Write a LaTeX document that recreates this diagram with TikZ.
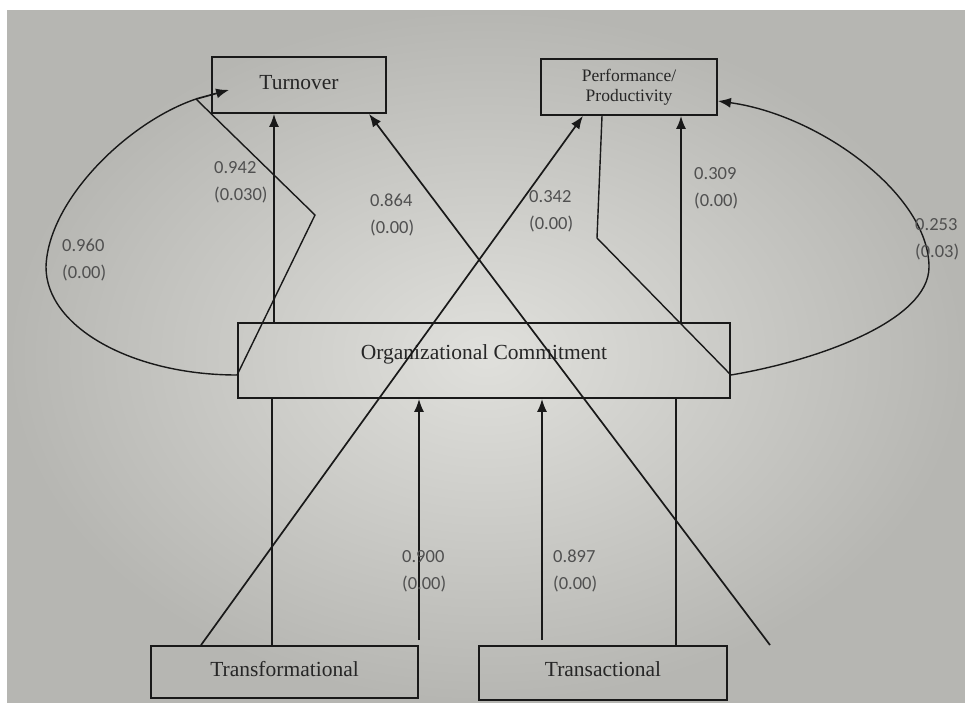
\documentclass[tikz,border=0pt]{standalone}
\usepackage{fontspec}
\setmainfont{Liberation Serif}
\newfontfamily\numfont{Carlito}
\usetikzlibrary{arrows.meta}
\definecolor{inkc}{RGB}{25,25,25}
\definecolor{numc}{RGB}{80,80,80}
\definecolor{bgin}{RGB}{224,224,220}
\definecolor{bgout}{RGB}{182,182,178}

\begin{document}
\begin{tikzpicture}[
    x=1pt, y=-1pt,
    box/.style={draw=inkc, line width=1.8pt, inner sep=0pt, align=center, text=black!85, font=\fontsize{21.5}{24}\selectfont},
    coef/.style={anchor=west, align=left, inner sep=0pt, text=numc, font=\numfont\fontsize{18.5}{27}\selectfont},
    arrow/.style={draw=inkc, line width=1.7pt, -{Latex[length=13pt,width=10pt]}},
    link/.style={draw=inkc, line width=1.7pt},
    arcline/.style={draw=inkc, line width=1.4pt},
]
\useasboundingbox (0,0) rectangle (965,702);
\fill[white] (0,0) rectangle (965,702);
\shade[inner color=bgin, outer color=bgout] (7,10) rectangle (965,702);

\node[box, minimum width=174pt, minimum height=56pt] (turn) at (299,85) {\raisebox{6pt}{Turnover}};
\node[box, minimum width=176pt, minimum height=56pt, font=\fontsize{17.5}{20}\selectfont] (perf) at (629,87) {Performance/\\Productivity};
\node[box, minimum width=492pt, minimum height=75pt] (oc) at (484,360.5) {\raisebox{17pt}{Organizational Commitment}};
\node[box, minimum width=267pt, minimum height=52pt] (trf) at (284.5,672) {\raisebox{6pt}{Transformational}};
\node[box, minimum width=248pt, minimum height=54pt] (trs) at (603,673) {\raisebox{8pt}{Transactional}};

\coordinate (tA) at ([xshift=-25pt]turn.south);
\coordinate (tB) at ([xshift=70pt]turn.south);
\coordinate (tC) at ([shift={(18,-24)}]turn.south west);
\coordinate (pA) at ([xshift=-46pt]perf.south);
\coordinate (pB) at ([xshift=52pt]perf.south);
\coordinate (pC) at ([xshift=-27pt]perf.south);
\coordinate (pD) at ([yshift=-14pt]perf.east);
\coordinate (ocL) at ([yshift=-14.5pt]oc.west);
\coordinate (ocR) at ([yshift=-14.5pt]oc.east);
\coordinate (lOut) at (46,267);
\coordinate (lTop) at (196,99);
\coordinate (lKnee) at (315,215);
\coordinate (rOut) at (929,267);
\coordinate (rKnee) at (597,238);
\coordinate (bA) at ([xshift=-83.5pt]trf.north);
\coordinate (bB) at ([xshift=-12.5pt]trf.north);
\coordinate (bC) at ([shift={(134.5,-5)}]trf.north);
\coordinate (bD) at ([shift={(-61,-5)}]trs.north);
\coordinate (bE) at ([xshift=73pt]trs.north);
\coordinate (bF) at (770,645);

% paths into the outcomes
\draw[arrow] (tA |- oc.north) -- (tA);
\draw[arrow] (pB |- oc.north) -- (pB);
\draw[arrow] (bA) -- (pA);
\draw[arrow] (bF) -- (tB);

% paths into commitment
\draw[link] (bB) -- (bB |- oc.south);
\draw[arrow] (bC) -- (bC |- oc.south);
\draw[arrow] (bD) -- (bD |- oc.south);
\draw[link] (bE) -- (bE |- oc.south);

% side loops
\draw[arcline] (ocL) .. controls (132,375) and (46,327) .. (lOut)
    .. controls (48,200) and (128,122) .. (lTop) -- (lKnee) -- (ocL);
\draw[arrow] (lTop) -- (tC);
\draw[arcline] (pC) -- (rKnee) -- (ocR) .. controls (820,360) and (929,320) .. (rOut);
\draw[arrow, line width=1.4pt] (rOut) .. controls (929,195) and (820,115) .. (pD);

\node[coef] (c960) at (62,260) {0.960\\(0.00)};
\node[coef] (c942) at (214,182) {0.942\\(0.030)};
\node[coef] (c864) at (370,215) {0.864\\(0.00)};
\node[coef] (c342) at (529,211) {0.342\\(0.00)};
\node[coef] (c309) at (694,188) {0.309\\(0.00)};
\node[coef] (c253) at (915,239) {0.253\\(0.03)};
\node[coef] (c900) at (402,571) {0.900\\(0.00)};
\node[coef] (c897) at (553,571) {0.897\\(0.00)};
\end{tikzpicture}
\end{document}
